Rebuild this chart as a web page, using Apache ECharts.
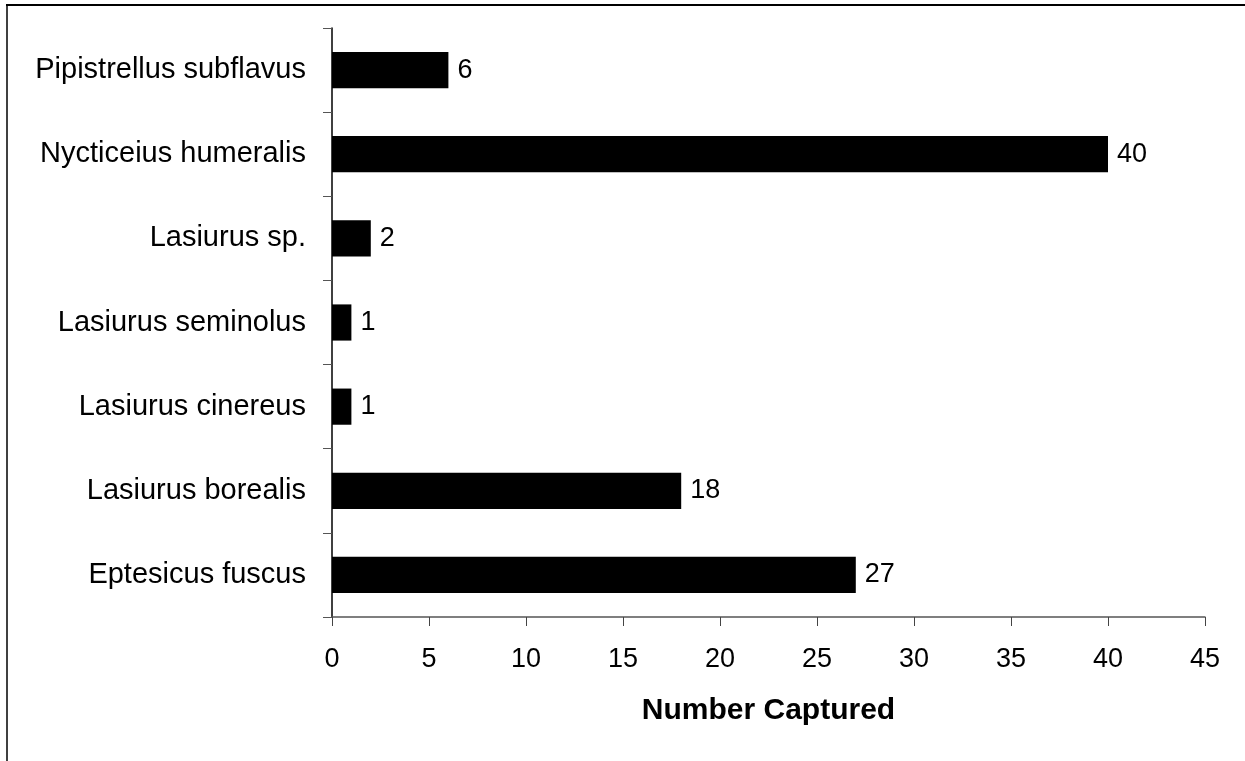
<!DOCTYPE html>
<html>
<head>
<meta charset="utf-8">
<script src="https://cdn.jsdelivr.net/npm/echarts@6/dist/echarts.min.js"></script>
<style>
  html, body { margin: 0; padding: 0; background: #fff; }
  #chart { width: 1245px; height: 761px; }
</style>
</head>
<body>
<div id="chart"></div>
<script>
// Bat species captured (bottom to top on the category axis)
const species = [
  'Eptesicus fuscus',
  'Lasiurus borealis',
  'Lasiurus cinereus',
  'Lasiurus seminolus',
  'Lasiurus sp.',
  'Nycticeius humeralis',
  'Pipistrellus subflavus'
];
const captured = [27, 18, 1, 1, 2, 40, 6];
const xTicks = [0, 5, 10, 15, 20, 25, 30, 35, 40, 45];

const font = 'Liberation Sans, Arial, sans-serif';
const chart = echarts.init(document.getElementById('chart'));

chart.setOption({
  animation: false,
  backgroundColor: '#fff',
  grid: { left: 332, right: 40, top: 28, bottom: 144, containLabel: false },
  graphic: [
    { type: 'line', shape: { x1: 6, y1: 5, x2: 1245, y2: 5 }, style: { stroke: '#000', lineWidth: 2 } },
    { type: 'line', shape: { x1: 7, y1: 5, x2: 7, y2: 761 }, style: { stroke: '#000', lineWidth: 1.5 } }
  ],
  xAxis: {
    type: 'value',
    min: xTicks[0],
    max: xTicks[xTicks.length - 1],
    interval: 5,
    name: 'Number Captured',
    nameLocation: 'middle',
    nameGap: 79,
    nameTextStyle: { fontFamily: font, fontSize: 30, fontWeight: 'bold', color: '#000' },
    axisLine: { show: true, lineStyle: { color: '#555', width: 1.5 } },
    axisTick: { show: true, length: 9, lineStyle: { color: '#444', width: 1 } },
    axisLabel: { margin: 29, fontFamily: font, fontSize: 27, color: '#000' },
    splitLine: { show: false }
  },
  yAxis: {
    type: 'category',
    data: species,
    axisLine: { show: true, onZero: false, lineStyle: { color: '#000', width: 1.5 } },
    axisTick: { show: true, length: 9, alignWithLabel: false, lineStyle: { color: '#555', width: 1 } },
    axisLabel: { margin: 26, fontFamily: font, fontSize: 29, color: '#000' }
  },
  series: [{
    type: 'bar',
    data: captured,
    barWidth: '43%',
    itemStyle: { color: '#000' },
    label: {
      show: true,
      position: 'right',
      distance: 9,
      fontFamily: font,
      fontSize: 27,
      color: '#000'
    }
  }]
});
</script>
</body>
</html>
